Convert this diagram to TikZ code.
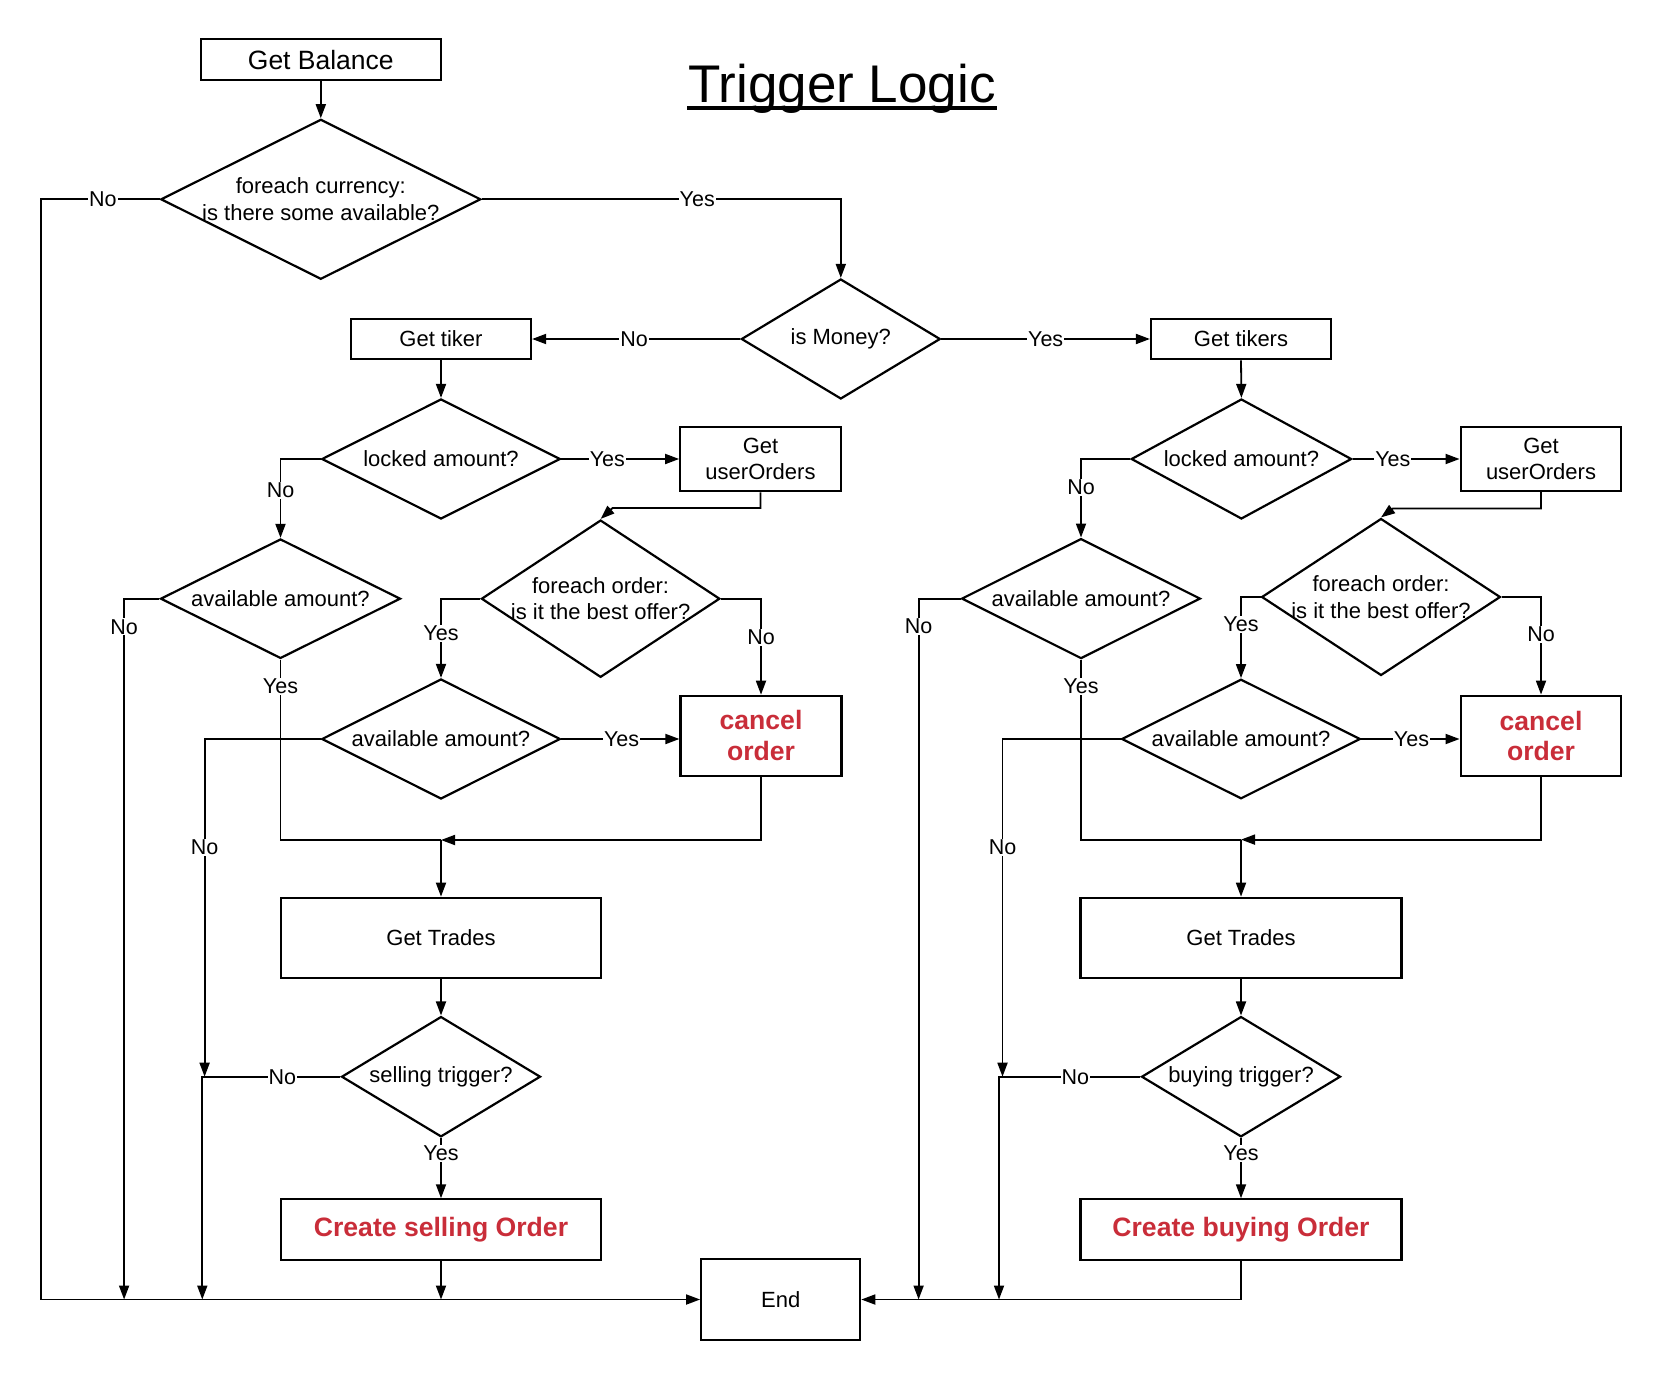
\documentclass[tikz,border=0pt]{standalone}
\usepackage{fontspec}
\setmainfont{Liberation Sans}
\usetikzlibrary{shapes.geometric,arrows.meta}
\definecolor{lucidred}{RGB}{201,45,57}

\begin{document}
\begin{tikzpicture}[x=1pt, y=-1pt, line width=1.8pt,
    box/.style={draw, line width=2.2pt, inner sep=0pt, align=center, font=\fontsize{22}{26.5}\selectfont},
    todo/.style={text=lucidred, font=\bfseries\fontsize{26.6}{30.7}\selectfont},
    dec/.style={diamond, draw, line width=2.2pt, inner sep=0pt},
    qtext/.style={align=center, inner sep=0pt, font=\fontsize{22}{26.5}\selectfont},
    lbl/.style={fill=white, inner sep=1pt, font=\fontsize{21.5}{25}\selectfont},
    arr/.style={-{Triangle[length=14pt,width=10pt]}}]
      \useasboundingbox (0,0) rectangle (1661,1380);

      \node[anchor=base, inner sep=0pt, font=\fontsize{53}{60}\selectfont] (title) at (842,102.5) {Trigger Logic};
      \draw[line width=3.8pt] ([yshift=-5.6pt]title.base west) -- ([yshift=-5.6pt]title.base east);

      \node[box, minimum width=240, minimum height=40.7, font=\fontsize{26.5}{30}\selectfont] (bal) at (320.8,59.7) {Get Balance};
      \node[dec, minimum width=320, minimum height=160, label={[qtext]center:{foreach currency:\\is there some available?}}] (cur) at (320.8,199.3) {};
      \node[dec, minimum width=199, minimum height=120, label={[qtext]center:{is Money?}}] (money) at (840.8,339) {};
      \node[box, minimum width=180, minimum height=40.7] (tkl) at (441,339) {Get tiker};
      \node[box, minimum width=180, minimum height=40.7] (tkr) at (1241,339) {Get tikers};

      \node[dec, minimum width=238.5, minimum height=120, label={[qtext]center:{locked amount?}}] (lkl) at (441,459) {};
      \node[box, minimum width=160.5, minimum height=64.3] (uol) at (760.5,459) {Get\\userOrders};
      \node[dec, minimum width=240, minimum height=119.5, label={[qtext]center:{available amount?}}] (avl) at (280.5,598.7) {};
      \node[dec, minimum width=238.5, minimum height=157.3, label={[qtext]center:{foreach order:\\is it the best offer?}}] (ordl) at (600.6,598.7) {};
      \node[dec, minimum width=238.5, minimum height=120, label={[qtext]center:{available amount?}}] (avl2) at (441,739) {};
      \node[box, todo, minimum width=161, minimum height=80] (cxl) at (761,735.8) {cancel\\order};
      \coordinate (ml) at (441,840);
      \node[box, minimum width=320, minimum height=80.3] (trl) at (441,937.9) {Get Trades};
      \node[dec, minimum width=199, minimum height=120.3, label={[qtext]center:{selling trigger?}}] (sel) at (441,1076.7) {};
      \node[box, todo, minimum width=320, minimum height=60.7] (crl) at (441,1229.7) {Create selling Order};

      \node[dec, minimum width=220.4, minimum height=120, label={[qtext]center:{locked amount?}}] (lkr) at (1241.4,459) {};
      \node[box, minimum width=160.7, minimum height=64] (uor) at (1541,459) {Get\\userOrders};
      \node[dec, minimum width=238.8, minimum height=120, label={[qtext]center:{available amount?}}] (avr) at (1081,598.6) {};
      \node[dec, minimum width=238.8, minimum height=157, label={[qtext]center:{foreach order:\\is it the best offer?}}] (ordr) at (1381,597) {};
      \node[dec, minimum width=238.7, minimum height=119.6, label={[qtext]center:{available amount?}}] (avr2) at (1241,739) {};
      \node[box, todo, minimum width=160.7, minimum height=80.4] (cxr) at (1541,735.9) {cancel\\order};
      \coordinate (mr) at (1241,839.6);
      \node[box, minimum width=321, minimum height=80.3] (trr) at (1241,937.9) {Get Trades};
      \node[dec, minimum width=199, minimum height=120.3, label={[qtext]center:{buying trigger?}}] (buy) at (1241,1076.7) {};
      \node[box, todo, minimum width=321, minimum height=60.7] (crr) at (1241,1229.7) {Create buying Order};

      \node[box, minimum width=159, minimum height=80.3] (endn) at (780.7,1299.5) {End};

      \coordinate (eL) at (41.3,1299.5);
      \coordinate (nl1) at (124.1,1299.5);
      \coordinate (nl2) at (204.6,1076.7);
      \coordinate (nl3) at (202.3,1299.5);
      \coordinate (nr1) at (918.6,1299.5);
      \coordinate (nr2) at (1002.5,1076.7);
      \coordinate (nr3) at (999,1299.5);

      \foreach \a/\b in {bal/cur, tkl/lkl, tkr/lkr, trl/sel, trr/buy}
        \draw[arr] (\a.south) -- (\b.north);
      \foreach \a/\b in {sel/crl, buy/crr}
        \draw[arr] (\a.south) -- node[lbl, pos=.26]{Yes} (\b.north);

      \draw[arr] (cur.west) -| node[lbl, pos=.24]{No} (eL) -- (endn.west);
      \draw[arr] (cur.east) -| node[lbl, pos=.3]{Yes} (money.north);
      \draw[arr] (money.west) -- node[lbl, pos=.51]{No} (tkl.east);
      \draw[arr] (money.east) -- node[lbl]{Yes} (tkr.west);

      \draw[arr] (lkl.east) -- node[lbl, pos=.39]{Yes} (uol.west);
      \draw[arr] (lkl.west) -| node[lbl, pos=.7]{No} (avl.north);
      \draw[arr] (avl.west) -| node[lbl, pos=.52]{No} (nl1);
      \draw (avl.south) -- node[lbl, pos=.15]{Yes} (avl.south |- ml) -- (ml);
      \draw[arr] (uol.south) |- ([shift={(12,-11)}]ordl.north) -- (ordl.north);
      \draw[arr] (ordl.west) -| node[lbl, pos=.72]{Yes} (avl2.north);
      \draw[arr] (ordl.east) -| node[lbl, pos=.7]{No} (cxl.north);
      \draw[arr] (avl2.east) -- node[lbl, pos=.51]{Yes} (avl2.east -| cxl.west);
      \draw[arr] (avl2.west) -| node[lbl, pos=.66]{No} (nl2);
      \draw[arr] (cxl.south) |- (ml);
      \draw[arr] (ml) -- (trl.north);
      \draw[arr] (sel.west) -| node[lbl, pos=.21]{No} (nl3);
      \draw[arr] (crl.south) -- (crl.south |- endn.west);

      \draw[arr] (lkr.east) -- node[lbl, pos=.375]{Yes} (uor.west);
      \draw[arr] (lkr.west) -| node[lbl, pos=.68]{No} (avr.north);
      \draw[arr] (avr.west) -| node[lbl, pos=.52]{No} (nr1);
      \draw (avr.south) -- node[lbl, pos=.15]{Yes} (avr.south |- mr) -- (mr);
      \draw[arr] (uor.south) |- ([shift={(12,-9)}]ordr.north) -- (ordr.north);
      \draw[arr] (ordr.west) -| node[lbl, pos=.67]{Yes} (avr2.north);
      \draw[arr] (ordr.east) -| node[lbl, pos=.69]{No} (cxr.north);
      \draw[arr] (avr2.east) -- node[lbl, pos=.51]{Yes} (avr2.east -| cxr.west);
      \draw[arr] (avr2.west) -| node[lbl, pos=.66]{No} (nr2);
      \draw[arr] (cxr.south) |- (mr);
      \draw[arr] (mr) -- (trr.north);
      \draw[arr] (buy.west) -| node[lbl, pos=.23]{No} (nr3);
      \draw[arr] (crr.south) |- (endn.east);
    \end{tikzpicture}
\end{document}
